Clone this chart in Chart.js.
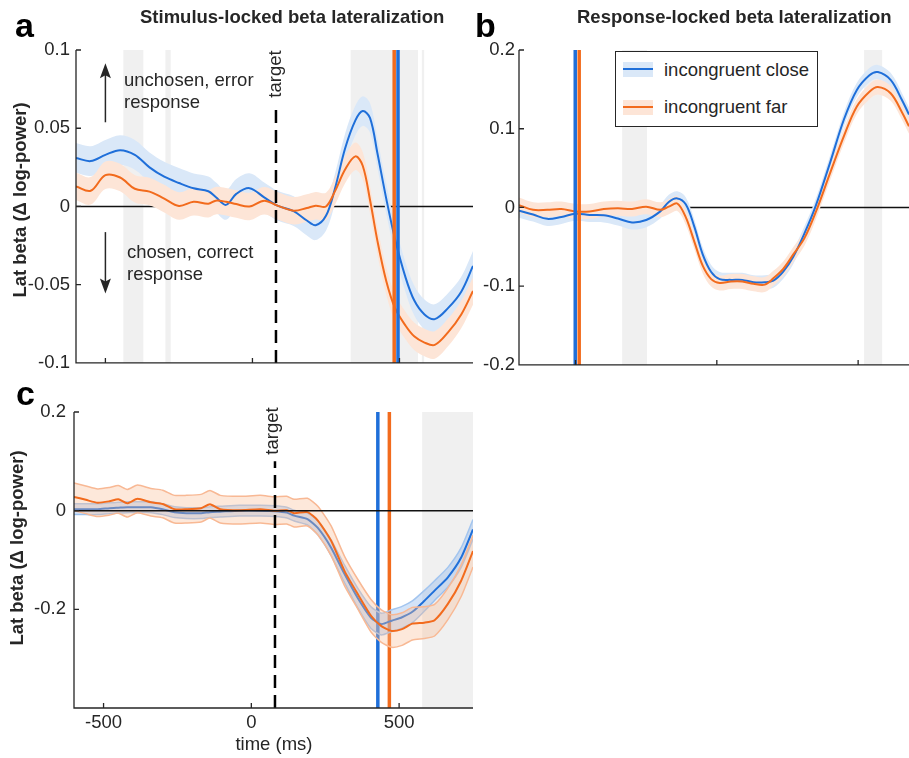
<!DOCTYPE html>
<html>
<head>
<meta charset="utf-8">
<script src="https://cdn.jsdelivr.net/npm/chart.js@4.4.1/dist/chart.umd.min.js"></script>
<style>
  body { margin: 0; width: 909px; height: 758px; overflow: hidden; position: relative; background: #fff;
         font-family: "Liberation Sans", Arial, Helvetica, sans-serif; color: #262626; }
  canvas { position: absolute; }
  .t { position: absolute; white-space: nowrap; font-size: 18.5px; line-height: 18px; }
  .b { font-weight: bold; }
  .rot { transform: rotate(-90deg); transform-origin: center center; text-align: center; }
  .letter { position: absolute; font-weight: bold; font-size: 34px; line-height: 34px; color: #000; }
</style>
</head>
<body>
<canvas id="chartA" width="480" height="380" style="left:0;top:0"></canvas>
<canvas id="chartB" width="439" height="380" style="left:470px;top:0"></canvas>
<canvas id="chartC" width="480" height="378" style="left:0;top:380px"></canvas>

<div class="letter" style="left:15px;top:8px">a</div>
<div class="letter" style="left:475px;top:8px">b</div>
<div class="letter" style="left:16px;top:376px">c</div>

<div class="t b" style="left:140px;top:8px">Stimulus-locked beta lateralization</div>
<div class="t b" style="left:577px;top:8px">Response-locked beta lateralization</div>

<div class="t b rot" style="left:-110px;top:191px;width:260px">Lat beta (&Delta; log-power)</div>
<div class="t b rot" style="left:-113px;top:539px;width:260px">Lat beta (&Delta; log-power)</div>

<div class="t" style="left:124px;top:69px;line-height:21.5px">unchosen, error<br>response</div>
<div class="t" style="left:127px;top:241px;line-height:21.5px">chosen, correct<br>response</div>

<div class="t rot" style="left:245px;top:65px;width:60px">target</div>
<div class="t rot" style="left:242px;top:422px;width:60px">target</div>

<div class="t" style="left:174px;top:735px;width:200px;text-align:center">time (ms)</div>

<!-- legend of panel b -->
<div style="position:absolute;left:615px;top:51px;width:203px;height:76px;border:1.5px solid #262626;box-sizing:border-box;background:#fff"></div>
<div style="position:absolute;left:623px;top:62px;width:30px;height:15px;background:#dae8f8"></div>
<div style="position:absolute;left:623px;top:68px;width:30px;height:2px;background:#1f6fd9"></div>
<div style="position:absolute;left:623px;top:100px;width:30px;height:15px;background:#fde5d7"></div>
<div style="position:absolute;left:623px;top:106px;width:30px;height:2px;background:#f26b1d"></div>
<div class="t" style="left:664px;top:61px">incongruent close</div>
<div class="t" style="left:664px;top:98px">incongruent far</div>

<script>
// ---- panel a: stimulus-locked (ms relative to cue) ----
const timesA = [-600, -550, -500, -450, -400, -350, -300, -250, -200, -150, -125, -90, -55, -10, 40, 85, 140, 185, 215,
  250, 280, 315, 350, 375, 400, 425, 455, 485, 520, 550, 585, 620, 665, 710, 750];
const closeA = [0.031, 0.029, 0.033, 0.036, 0.033, 0.025, 0.019, 0.015, 0.0116, 0.0097, 0.006, 0.001, 0.008, 0.0117,
  0.0058, 0.0005, -0.003, -0.009, -0.012, -0.006, 0.011, 0.037, 0.055, 0.061, 0.0565, 0.034, 0.005, -0.021, -0.045,
  -0.060, -0.069, -0.072, -0.065, -0.0545, -0.038];
const farA = [0.0128, 0.010, 0.020, 0.0185, 0.0113, 0.0095, 0.005, 0.0003, 0.003, 0.0018, 0.0037, 0.003, 0.0015, 0.0,
  0.0037, 0.0005, -0.0027, -0.001, 0.0005, 0.0, 0.0095, 0.0236, 0.032, 0.026, 0.004, -0.022, -0.0476, -0.065, -0.076,
  -0.083, -0.087, -0.0885, -0.0805, -0.069, -0.054];
const semCloseA = 0.0095;
const semFarA = 0.0088;
const rtA = [495, 482];            // close, far
const greysA = [[-439, -371], [-296, -278], [334, 563], [576, 584]];
const targetA = 80;
const xTicksA = [-500, 0, 500];
const yTicksA = [-0.1, -0.05, 0, 0.05, 0.1];
const arrowsA = [[-500, 0.0538, 0.0916], [-500, -0.0164, -0.0556]];

// ---- panel b: response-locked ----
const timesB = [-700, -650, -600, -550, -500, -450, -400, -350, -300, -250, -200, -170, -140, -110, -80, -50, -20, 10,
  50, 90, 130, 170, 200, 235, 270, 310, 350, 400, 450, 495, 540, 570, 615, 655, 680];
const closeB = [-0.004, -0.009, -0.0145, -0.012, -0.008, -0.0095, -0.010, -0.014, -0.019, -0.016, -0.005, 0.007, 0.0115,
  0.004, -0.024, -0.0595, -0.082, -0.091, -0.092, -0.092, -0.095, -0.095, -0.093, -0.0815, -0.063, -0.033, 0.002, 0.056,
  0.112, 0.149, 0.168, 0.172, 0.162, 0.1365, 0.118];
const farB = [0.003, -0.003, -0.003, -0.002, -0.005, -0.005, -0.002, -0.001, -0.002, 0.001, -0.003, 0.001, 0.005, -0.0124,
  -0.043, -0.074, -0.091, -0.096, -0.094, -0.094, -0.097, -0.098, -0.090, -0.078, -0.060, -0.039, -0.006, 0.043, 0.091,
  0.128, 0.147, 0.153, 0.145, 0.121, 0.103];
const semCloseB = 0.009;
const semFarB = 0.0095;
const rtB = [-501, -487];
const greysB = [[-335, -247], [521, 585]];
const xTicksB = [-500, 0, 500];
const yTicksB = [-0.2, -0.1, 0, 0.1, 0.2];

// ---- panel c ----
const timesC = [-600, -560, -520, -480, -450, -420, -385, -340, -300, -260, -220, -170, -140, -105, -40, 30, 80, 120, 145,
  190, 225, 270, 315, 360, 405, 440, 475, 510, 545, 585, 620, 665, 710, 750];
const closeC = [0.003, 0.003, 0.003, 0.005, 0.006, 0.007, 0.007, 0.007, 0.003, -0.003, -0.005, -0.005, -0.003, -0.002,
  0.0, 0.0, -0.001, -0.004, -0.010, -0.017, -0.035, -0.075, -0.128, -0.177, -0.217, -0.230, -0.223, -0.216, -0.205,
  -0.183, -0.162, -0.135, -0.095, -0.038];
const farC = [0.028, 0.022, 0.016, 0.019, 0.023, 0.015, 0.024, 0.017, 0.0135, 0.003, 0.003, 0.005, 0.013, 0.003, 0.001,
  0.003, 0.0, 0.001, -0.005, -0.003, -0.020, -0.061, -0.122, -0.169, -0.213, -0.234, -0.244, -0.240, -0.229, -0.227,
  -0.222, -0.189, -0.142, -0.082];
const semCloseC = [0.011, 0.011, 0.011, 0.011, 0.011, 0.011, 0.011, 0.011, 0.011, 0.011, 0.011, 0.011, 0.011, 0.011,
  0.011, 0.011, 0.011, 0.011, 0.011, 0.012, 0.014, 0.016, 0.018, 0.020, 0.022, 0.022, 0.022, 0.022, 0.022, 0.021, 0.020,
  0.020, 0.020, 0.020];
const semFarC = [0.028, 0.028, 0.028, 0.028, 0.028, 0.028, 0.028, 0.028, 0.028, 0.028, 0.028, 0.028, 0.028, 0.028, 0.028,
  0.028, 0.028, 0.028, 0.028, 0.028, 0.029, 0.030, 0.030, 0.030, 0.033, 0.033, 0.033, 0.033, 0.033, 0.032, 0.032, 0.032,
  0.032, 0.032];
const rtC = [428, 467];
const greysC = [[578, 750]];
const targetC = 80;
const xTicksC = [-500, 0, 500];
const yTicksC = [-0.2, 0, 0.2];

const BLUE = '#1f6fd9', ORANGE = '#f26b1d';
const AXIS = '#262626';
const FONT = { family: '"Liberation Sans", Arial, Helvetica, sans-serif', size: 18.5 };

function lineSet(times, vals, color, tension) {
  return { data: times.map((t, i) => ({ x: t, y: vals[i] })), borderColor: color, borderWidth: 2,
           fill: false, tension: tension };
}

function bandSets(times, vals, sem, band, edge, tension) {
  const s = i => Array.isArray(sem) ? sem[i] : sem;
  const ew = edge ? 1.5 : 0;
  return [
    { data: times.map((t, i) => ({ x: t, y: vals[i] + s(i) })), fill: '+1', backgroundColor: band,
      borderColor: edge || 'rgba(0,0,0,0)', borderWidth: ew, tension: tension },
    { data: times.map((t, i) => ({ x: t, y: vals[i] - s(i) })), fill: false,
      borderColor: edge || 'rgba(0,0,0,0)', borderWidth: ew, tension: tension }
  ];
}

function zeroLine(chart) {
  const { ctx, chartArea: a } = chart;
  const y0 = chart.scales.y.getPixelForValue(0);
  ctx.save();
  ctx.strokeStyle = '#111';
  ctx.lineWidth = 1.5;
  ctx.beginPath();
  ctx.moveTo(a.left, y0);
  ctx.lineTo(a.right, y0);
  ctx.stroke();
  ctx.restore();
}

function rtLines(chart, rts) {
  const { ctx, chartArea: a } = chart;
  ctx.save();
  ctx.lineWidth = 3.5;
  [[rts[1], ORANGE], [rts[0], BLUE]].forEach(([t, c]) => {
    const px = chart.scales.x.getPixelForValue(t);
    ctx.strokeStyle = c;
    ctx.beginPath();
    ctx.moveTo(px, a.top);
    ctx.lineTo(px, a.bottom);
    ctx.stroke();
  });
  ctx.restore();
}

const decor = {
  id: 'decor',
  beforeDatasetsDraw(chart, args, o) {
    const { ctx, chartArea: a } = chart;
    const x = chart.scales.x;
    ctx.save();
    ctx.fillStyle = '#f0f0f0';
    o.greys.forEach(g => {
      const x0 = Math.max(a.left, x.getPixelForValue(g[0]));
      const x1 = Math.min(a.right, x.getPixelForValue(g[1]));
      ctx.fillRect(x0, a.top, x1 - x0, a.bottom - a.top);
    });
    ctx.restore();
    if (!o.zeroOnTop) zeroLine(chart);
    if (o.rtBelow) rtLines(chart, o.rts);
  },
  afterDatasetsDraw(chart, args, o) {
    const { ctx, chartArea: a } = chart;
    const x = chart.scales.x, y = chart.scales.y;
    if (!o.rtBelow) rtLines(chart, o.rts);
    if (o.zeroOnTop) zeroLine(chart);
    ctx.save();
    if (o.target != null) {
      const px = x.getPixelForValue(o.target);
      ctx.strokeStyle = '#000';
      ctx.lineWidth = 2.5;
      ctx.setLineDash([13, 7]);
      ctx.beginPath();
      ctx.moveTo(px, a.bottom);
      ctx.lineTo(px, y.getPixelForValue(o.targetTop));
      ctx.stroke();
      ctx.setLineDash([]);
    }
    (o.arrows || []).forEach(([t, from, to]) => {
      const px = x.getPixelForValue(t);
      const p0 = y.getPixelForValue(from), p1 = y.getPixelForValue(to);
      const dir = p1 < p0 ? 1 : -1;
      ctx.strokeStyle = AXIS;
      ctx.fillStyle = AXIS;
      ctx.lineWidth = 1.5;
      ctx.beginPath();
      ctx.moveTo(px, p0);
      ctx.lineTo(px, p1 + dir * 10);
      ctx.stroke();
      ctx.beginPath();
      ctx.moveTo(px, p1);
      ctx.lineTo(px - 5.5, p1 + dir * 15);
      ctx.lineTo(px, p1 + dir * 12);
      ctx.lineTo(px + 5.5, p1 + dir * 15);
      ctx.closePath();
      ctx.fill();
    });
    // axes with inward ticks
    ctx.strokeStyle = AXIS;
    ctx.lineWidth = 1.3;
    ctx.beginPath();
    ctx.moveTo(a.left, a.top);
    ctx.lineTo(a.left, a.bottom);
    ctx.lineTo(a.right, a.bottom);
    x.ticks.forEach(tk => {
      const px = x.getPixelForValue(tk.value);
      ctx.moveTo(px, a.bottom);
      ctx.lineTo(px, a.bottom - 5);
    });
    y.ticks.forEach(tk => {
      const py = y.getPixelForValue(tk.value);
      ctx.moveTo(a.left, py);
      ctx.lineTo(a.left + 5, py);
    });
    ctx.stroke();
    ctx.restore();
  }
};

function makeChart(id, p) {
  return new Chart(document.getElementById(id), {
    type: 'line',
    data: { datasets: p.datasets },
    plugins: [decor],
    options: {
      responsive: false,
      animation: false,
      devicePixelRatio: 1,
      layout: { padding: { top: p.top, right: p.right, left: 0, bottom: 0 } },
      elements: { point: { radius: 0 } },
      plugins: {
        legend: { display: false },
        tooltip: { enabled: false },
        decor: p.decor
      },
      scales: {
        x: {
          type: 'linear', min: p.xMin, max: p.xMax,
          afterBuildTicks: s => { s.ticks = p.xTicks.map(v => ({ value: v })); },
          afterFit: s => { s.height = p.xH; },
          grid: { display: false, drawTicks: false },
          border: { display: false },
          ticks: { display: p.xLabels, font: FONT, color: AXIS, padding: 4, maxRotation: 0, autoSkip: false,
                   callback: v => String(v) }
        },
        y: {
          min: p.yMin, max: p.yMax,
          afterBuildTicks: s => { s.ticks = p.yTicks.map(v => ({ value: v })); },
          afterFit: s => { s.width = p.yW; },
          grid: { display: false, drawTicks: false },
          border: { display: false },
          ticks: { font: FONT, color: AXIS, padding: p.yPad, autoSkip: false,
                   callback: v => String(+v.toFixed(3)) }
        }
      }
    }
  });
}

makeChart('chartA', {
  datasets: [
    lineSet(timesA, farA, ORANGE, 0.35),
    lineSet(timesA, closeA, BLUE, 0.35),
    ...bandSets(timesA, farA, semFarA, '#fde5d7', null, 0.35),
    ...bandSets(timesA, closeA, semCloseA, '#dae8f8', null, 0.35)
  ],
  top: 50, right: 7, xH: 15, yW: 76, yPad: 6, xLabels: false,
  xMin: -600, xMax: 750, yMin: -0.1, yMax: 0.1, xTicks: xTicksA, yTicks: yTicksA,
  decor: { greys: greysA, rts: rtA, target: targetA, targetTop: 0.064, arrows: arrowsA, zeroOnTop: false, rtBelow: false }
});

makeChart('chartB', {
  datasets: [
    lineSet(timesB, farB, ORANGE, 0.35),
    lineSet(timesB, closeB, BLUE, 0.35),
    ...bandSets(timesB, farB, semFarB, '#fde5d7', null, 0.35),
    ...bandSets(timesB, closeB, semCloseB, '#dae8f8', null, 0.35)
  ],
  top: 50, right: 0, xH: 15, yW: 49, yPad: 4, xLabels: false,
  xMin: -700, xMax: 680, yMin: -0.2, yMax: 0.2, xTicks: xTicksB, yTicks: yTicksB,
  decor: { greys: greysB, rts: rtB, target: null, zeroOnTop: false, rtBelow: false }
});

makeChart('chartC', {
  datasets: [
    lineSet(timesC, farC, ORANGE, 0.2),
    ...bandSets(timesC, farC, semFarC, 'rgba(248,190,150,0.35)', '#f8b894', 0.2),
    lineSet(timesC, closeC, BLUE, 0.2),
    ...bandSets(timesC, closeC, semCloseC, 'rgba(130,175,235,0.35)', '#a3c5ef', 0.2)
  ],
  top: 32, right: 7, xH: 50, yW: 74, yPad: 8, xLabels: true,
  xMin: -600, xMax: 750, yMin: -0.4, yMax: 0.2, xTicks: xTicksC, yTicks: yTicksC,
  decor: { greys: greysC, rts: rtC, target: targetC, targetTop: 0.1, zeroOnTop: true, rtBelow: true }
});
</script>
</body>
</html>
